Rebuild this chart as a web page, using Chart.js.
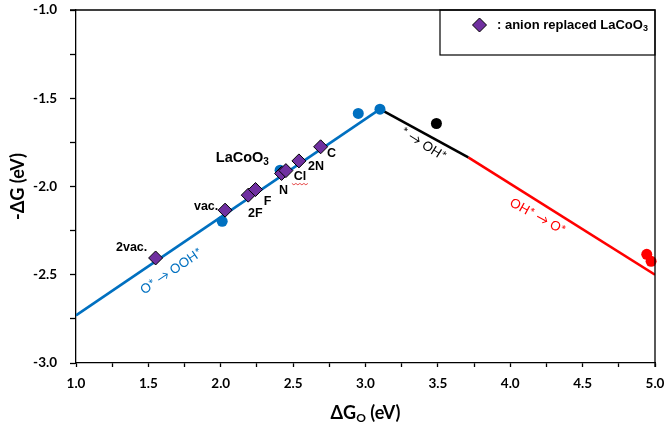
<!DOCTYPE html>
<html><head><meta charset="utf-8">
<script src="https://cdn.jsdelivr.net/npm/chart.js@4.4.1/dist/chart.umd.min.js"></script>
<style>html,body{margin:0;padding:0;background:#fff}#wrap{width:666px;height:432px}</style>
</head><body><div id="wrap"><canvas id="c" width="666" height="432"></canvas></div>
<script>
// ---- data ----
const xTickStep = 0.25;
const xMin = 1.0, xMax = 5.0, yMin = -3.0, yMax = -1.0;
const blueLineX = [1.0, 3.10];
const blueLineY = [-2.73, -1.562];
const blackLineX = [3.10, 3.71];
const blackLineY = [-1.562, -1.835];
const redLineX = [3.71, 5.0];
const redLineY = [-1.835, -2.5];
const bluePtX = [2.01, 2.41, 2.95, 3.10];
const bluePtY = [-2.197, -1.908, -1.586, -1.562];
const blackPtX = [3.49];
const blackPtY = [-1.643];
const redPtX = [4.943, 4.973];
const redPtY = [-2.384, -2.424];
const anionNames = ['2vac.', 'vac.', '2F', 'F', 'N', 'Cl', '2N', 'C'];
const anionX = [1.55, 2.03, 2.19, 2.24, 2.42, 2.45, 2.54, 2.69];
const anionY = [-2.405, -2.134, -2.049, -2.017, -1.926, -1.91, -1.855, -1.775];
const legendText = ': anion replaced LaCoO';
const yTitle = '-ΔG (eV)';

const pts = (xs, ys) => xs.map((x, i) => ({x, y: ys[i]}));
const BLUE = '#0070C0', RED = '#FF0000', PURPLE = '#7030A0';

// label pixel offsets relative to marker
const anionOffsets = [[-24,-10],[-19,-4],[7,18],[12,12],[2,17],[14,6],[17,6],[11,7]];

const annot = {
  id: 'annot',
  afterDraw(chart) {
    const {ctx, chartArea: a, scales: {x, y}} = chart;
    ctx.save();
    // frame top & right
    ctx.strokeStyle = '#000'; ctx.lineWidth = 1.3;
    ctx.beginPath();
    ctx.moveTo(a.left - 6, a.top); ctx.lineTo(a.right, a.top); ctx.lineTo(a.right, a.bottom + 4);
    ctx.stroke();
    // diamond labels
    ctx.fillStyle = '#000';
    ctx.textAlign = 'center'; ctx.textBaseline = 'middle';
    ctx.font = 'bold 12.5px "Liberation Sans", Arial, sans-serif';
    anionNames.forEach((n, i) => {
      const px = x.getPixelForValue(anionX[i]) + anionOffsets[i][0];
      const py = y.getPixelForValue(anionY[i]) + anionOffsets[i][1];
      ctx.fillText(n, px, py);
      if (n === 'Cl') {
        ctx.save(); ctx.strokeStyle = '#E02020'; ctx.lineWidth = 0.8;
        ctx.beginPath();
        for (let k = 0; k <= 8; k++) {
          const sx = px - 8 + k * 2, sy = py + 7 + (k % 2 ? 1.2 : -0.2);
          k ? ctx.lineTo(sx, sy) : ctx.moveTo(sx, sy);
        }
        ctx.stroke(); ctx.restore();
      }
    });
    // LaCoO3 label near host point
    {
      const px = x.getPixelForValue(bluePtX[1]) - 37;
      const py = y.getPixelForValue(bluePtY[1]) - 12;
      ctx.font = 'bold 14.5px "Liberation Sans", Arial, sans-serif';
      ctx.textAlign = 'left';
      const w = ctx.measureText('LaCoO').width;
      const sx = px - (w + 7) / 2;
      ctx.fillText('LaCoO', sx, py);
      ctx.font = 'bold 10px "Liberation Sans", Arial, sans-serif';
      ctx.fillText('3', sx + w, py + 4);
    }
    // rotated line labels
    const rot = (txt, color, cx, cy, deg) => {
      ctx.save();
      ctx.translate(cx, cy); ctx.rotate(-deg * Math.PI / 180);
      ctx.fillStyle = color; ctx.textAlign = 'center'; ctx.textBaseline = 'middle';
      ctx.font = '13px Lato, "Open Sans", sans-serif';
      ctx.fillText(txt, 0, 0);
      ctx.restore();
    };
    rot('O* → OOH*', BLUE, x.getPixelForValue(1.66), y.getPixelForValue(-2.48), 34);
    rot('* → OH*', '#000', x.getPixelForValue(3.40), y.getPixelForValue(-1.76), -32);
    rot('OH* → O*', RED, x.getPixelForValue(4.19), y.getPixelForValue(-2.17), -29);
    // legend box
    const lx = 440, ly = a.top, lw = a.right - 440, lh = 45;
    ctx.strokeStyle = '#000'; ctx.lineWidth = 1.2;
    ctx.strokeRect(lx, ly, lw, lh);
    ctx.fillStyle = PURPLE; ctx.strokeStyle = '#000'; ctx.lineWidth = 1;
    const dx = 479.5, dy = 25, r = 7;
    ctx.beginPath(); ctx.moveTo(dx, dy - r); ctx.lineTo(dx + r, dy); ctx.lineTo(dx, dy + r); ctx.lineTo(dx - r, dy); ctx.closePath();
    ctx.fill(); ctx.stroke();
    ctx.fillStyle = '#000'; ctx.textAlign = 'left'; ctx.textBaseline = 'middle';
    ctx.font = 'bold 13px "Liberation Sans", Arial, sans-serif';
    ctx.fillText(legendText, 497, 25);
    const lw2 = ctx.measureText(legendText).width;
    ctx.font = 'bold 9px "Liberation Sans", Arial, sans-serif';
    ctx.fillText('3', 497 + lw2, 28.5);
    // axis titles
    ctx.fillStyle = '#000';
    ctx.textAlign = 'left'; ctx.textBaseline = 'middle';
    const midX = (a.left + a.right) / 2;
    const t1 = 'ΔG', t3 = ' (eV)';
    ctx.font = 'bold 18px Lato, sans-serif';
    const w1 = ctx.measureText(t1).width, w3b = ctx.measureText(t3).width;
    ctx.font = 'bold 12px Lato, sans-serif';
    const w2 = ctx.measureText('O').width;
    const sx = midX - (w1 + w2 + w3b) / 2;
    const ty = 413;
    ctx.font = 'bold 18px Lato, sans-serif';
    ctx.fillText(t1, sx, ty);
    ctx.font = 'bold 12px Lato, sans-serif';
    ctx.fillText('O', sx + w1, ty + 5);
    ctx.font = 'bold 18px Lato, sans-serif';
    ctx.fillText(t3, sx + w1 + w2, ty);
    ctx.save();
    ctx.translate(18, (a.top + a.bottom) / 2); ctx.rotate(-Math.PI / 2);
    ctx.textAlign = 'center';
    ctx.fillText(yTitle, 0, 0);
    ctx.restore();
    ctx.restore();
  }
};

new Chart(document.getElementById('c'), {
  type: 'scatter',
  data: {
    datasets: [
      {data: pts(anionX, anionY), pointStyle: 'rectRot', pointRadius: 7, backgroundColor: PURPLE, borderColor: '#000', borderWidth: 1, order: 1, clip: false},
      {data: pts(bluePtX, bluePtY), pointRadius: 5.5, backgroundColor: BLUE, borderColor: BLUE, borderWidth: 0, order: 2, clip: false},
      {data: pts(blackPtX, blackPtY), pointRadius: 5.5, backgroundColor: '#000', borderColor: '#000', borderWidth: 0, order: 2, clip: false},
      {data: pts(redPtX, redPtY), pointRadius: 5.5, backgroundColor: RED, borderColor: RED, borderWidth: 0, order: 2, clip: false},
      {data: pts(blueLineX, blueLineY), showLine: true, pointRadius: 0, borderColor: BLUE, borderWidth: 2.6, order: 3},
      {data: pts(blackLineX, blackLineY), showLine: true, pointRadius: 0, borderColor: '#000', borderWidth: 2.6, order: 3},
      {data: pts(redLineX, redLineY), showLine: true, pointRadius: 0, borderColor: RED, borderWidth: 2.6, order: 3}
    ]
  },
  options: {
    responsive: false, animation: false, devicePixelRatio: 1,
    layout: {padding: {top: 10, right: 11, left: 0, bottom: 0}},
    plugins: {legend: {display: false}, tooltip: {enabled: false}},
    scales: {
      x: {
        type: 'linear', min: xMin, max: xMax,
        afterFit: s => { s.height = 69; s.paddingLeft = 0; s.paddingRight = 0; },
        border: {color: '#000', width: 1.3},
        grid: {drawOnChartArea: false, drawTicks: true, tickLength: 4, tickColor: '#000', tickWidth: 1.3},
        ticks: {stepSize: xTickStep, autoSkip: false, maxRotation: 0, padding: 9, color: '#000',
          font: {family: 'Lato', weight: 'bold', size: 13.5},
          callback: v => (Math.abs(v * 2 - Math.round(v * 2)) < 1e-6 ? v.toFixed(1) : '')}
      },
      y: {
        type: 'linear', min: yMin, max: yMax,
        afterFit: s => { s.width = 76; s.paddingTop = 0; s.paddingBottom = 0; },
        border: {color: '#000', width: 1.3},
        grid: {drawOnChartArea: false, drawTicks: true, tickLength: 6, tickColor: '#000', tickWidth: 1.3},
        ticks: {stepSize: 0.25, autoSkip: false, padding: 13, color: '#000',
          font: {family: 'Lato', weight: 'bold', size: 13.5},
          callback: v => (Math.abs(v * 2 - Math.round(v * 2)) < 1e-6 ? v.toFixed(1) : '')}
      }
    }
  },
  plugins: [annot]
});
</script></body></html>
